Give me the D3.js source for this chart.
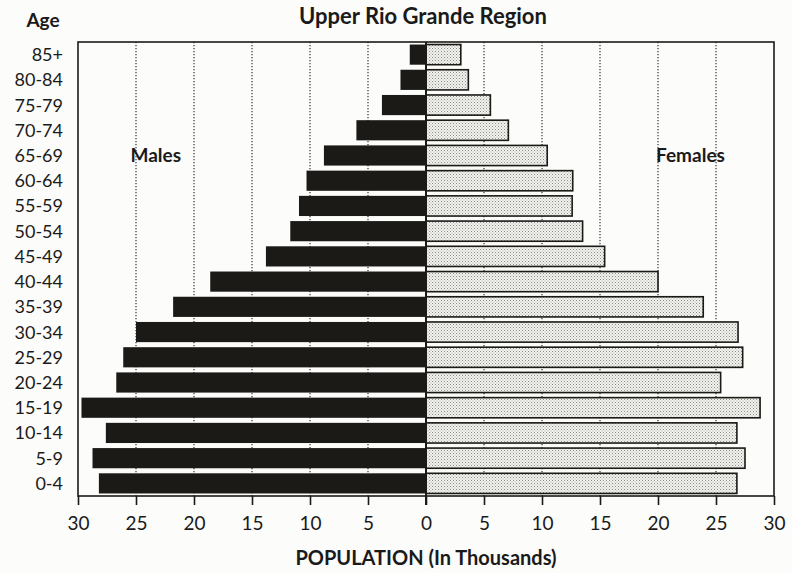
<!DOCTYPE html>
<html>
<head>
<meta charset="utf-8">
<script src="https://cdn.jsdelivr.net/npm/d3@7"></script>
<style>
  body { margin: 0; background: #fcfcfa; }
  svg text { font-family: Lato, "Open Sans", sans-serif; fill: #1a1a1a; }
</style>
</head>
<body>
<div id="chart"></div>
<script>
// age groups, top to bottom
var ages = ["85+", "80-84", "75-79", "70-74", "65-69", "60-64", "55-59", "50-54", "45-49",
            "40-44", "35-39", "30-34", "25-29", "20-24", "15-19", "10-14", "5-9", "0-4"];
// population in thousands
var males = [1.4, 2.2, 3.8, 6.0, 8.8, 10.3, 10.95, 11.7, 13.8,
             18.6, 21.8, 25.0, 26.1, 26.7, 29.7, 27.6, 28.75, 28.2];
var females = [3.0, 3.65, 5.55, 7.1, 10.45, 12.65, 12.6, 13.5, 15.4,
               20.0, 23.9, 26.9, 27.3, 25.4, 28.8, 26.8, 27.5, 26.8];
var tickValues = [-30, -25, -20, -15, -10, -5, 0, 5, 10, 15, 20, 25, 30];
var gridValues = [-25, -20, -15, -10, -5, 5, 10, 15, 20, 25];

var svgWidth = 792, svgHeight = 573;
var margin = {top: 42, right: 18, bottom: 77, left: 78};

var svg = d3.select('#chart').append('svg')
  .attr('width', svgWidth)
  .attr('height', svgHeight);

var width = svgWidth - margin.left - margin.right,
    height = svgHeight - margin.top - margin.bottom;

var g = svg.append('g')
  .attr('transform', 'translate(' + margin.left + ',' + margin.top + ')');

// stipple pattern for the female bars
var defs = svg.append('defs');
var pat = defs.append('pattern')
  .attr('id', 'stipple')
  .attr('patternUnits', 'userSpaceOnUse')
  .attr('width', 3).attr('height', 3);
pat.append('rect').attr('width', 3).attr('height', 3).attr('fill', '#f2f2ee');
pat.append('rect').attr('x', 0).attr('y', 0).attr('width', 1).attr('height', 1).attr('fill', '#8a8a86');
pat.append('rect').attr('x', 1.5).attr('y', 1.5).attr('width', 1).attr('height', 1).attr('fill', '#a8a8a4');

var x = d3.scaleLinear().domain([-30, 30]).range([0, width]);
var y = d3.scaleBand().domain(ages).range([0, height]).paddingInner(0.2).paddingOuter(0.1);

// dotted grid
g.selectAll('.grid').data(gridValues).enter().append('line')
  .attr('x1', function(d) { return x(d); })
  .attr('x2', function(d) { return x(d); })
  .attr('y1', 0).attr('y2', height)
  .attr('stroke', '#333')
  .attr('stroke-width', 1.2)
  .attr('stroke-dasharray', '1.2,1.8');

// male bars
g.selectAll('.male').data(males).enter().append('rect')
  .attr('x', function(d) { return x(-d); })
  .attr('y', function(d, i) { return y(ages[i]); })
  .attr('width', function(d) { return x(0) - x(-d); })
  .attr('height', y.bandwidth())
  .attr('fill', '#1c1a17');

// female bars
g.selectAll('.female').data(females).enter().append('rect')
  .attr('x', x(0))
  .attr('y', function(d, i) { return y(ages[i]); })
  .attr('width', function(d) { return x(d) - x(0); })
  .attr('height', y.bandwidth())
  .attr('fill', 'url(#stipple)')
  .attr('stroke', '#1c1a17')
  .attr('stroke-width', 1.6);

// frame
g.append('rect')
  .attr('width', width).attr('height', height)
  .attr('fill', 'none')
  .attr('stroke', '#1c1a17')
  .attr('stroke-width', 1.6);

// centre line
g.append('line')
  .attr('x1', x(0)).attr('x2', x(0))
  .attr('y1', 0).attr('y2', height + 9)
  .attr('stroke', '#1c1a17')
  .attr('stroke-width', 2);

// bottom axis
var xAxis = g.append('g')
  .attr('transform', 'translate(0,' + height + ')')
  .call(d3.axisBottom(x).tickValues(tickValues).tickSize(9).tickPadding(12)
    .tickFormat(function(d) { return Math.abs(d); }));
xAxis.select('.domain').remove();
xAxis.selectAll('line').attr('stroke', '#1c1a17').attr('stroke-width', 1.6);
xAxis.selectAll('text').style('font-size', '19px').attr('fill', '#1a1a1a');

// age labels
g.selectAll('.age').data(ages).enter().append('text')
  .attr('x', -15)
  .attr('y', function(d) { return y(d) + y.bandwidth() / 2; })
  .attr('dy', '0.36em')
  .attr('text-anchor', 'end')
  .style('font-size', '18px')
  .text(function(d) { return d; });

// titles
svg.append('text')
  .attr('x', 423).attr('y', 24)
  .attr('text-anchor', 'middle')
  .style('font-size', '22px').style('font-weight', 'bold')
  .text('Upper Rio Grande Region');

svg.append('text')
  .attr('x', 43).attr('y', 27)
  .attr('text-anchor', 'middle')
  .style('font-size', '19px').style('font-weight', 'bold')
  .text('Age');

svg.append('text')
  .attr('x', 426).attr('y', 565)
  .attr('text-anchor', 'middle')
  .style('font-size', '20px').style('font-weight', 'bold')
  .text('POPULATION (In Thousands)');

g.append('text')
  .attr('x', x(-23.3)).attr('y', y('65-69') + y.bandwidth() / 2)
  .attr('dy', '0.36em')
  .attr('text-anchor', 'middle')
  .style('font-size', '19px').style('font-weight', 'bold')
  .text('Males');

g.append('text')
  .attr('x', x(22.8)).attr('y', y('65-69') + y.bandwidth() / 2)
  .attr('dy', '0.36em')
  .attr('text-anchor', 'middle')
  .style('font-size', '19px').style('font-weight', 'bold')
  .text('Females');
</script>
</body>
</html>
